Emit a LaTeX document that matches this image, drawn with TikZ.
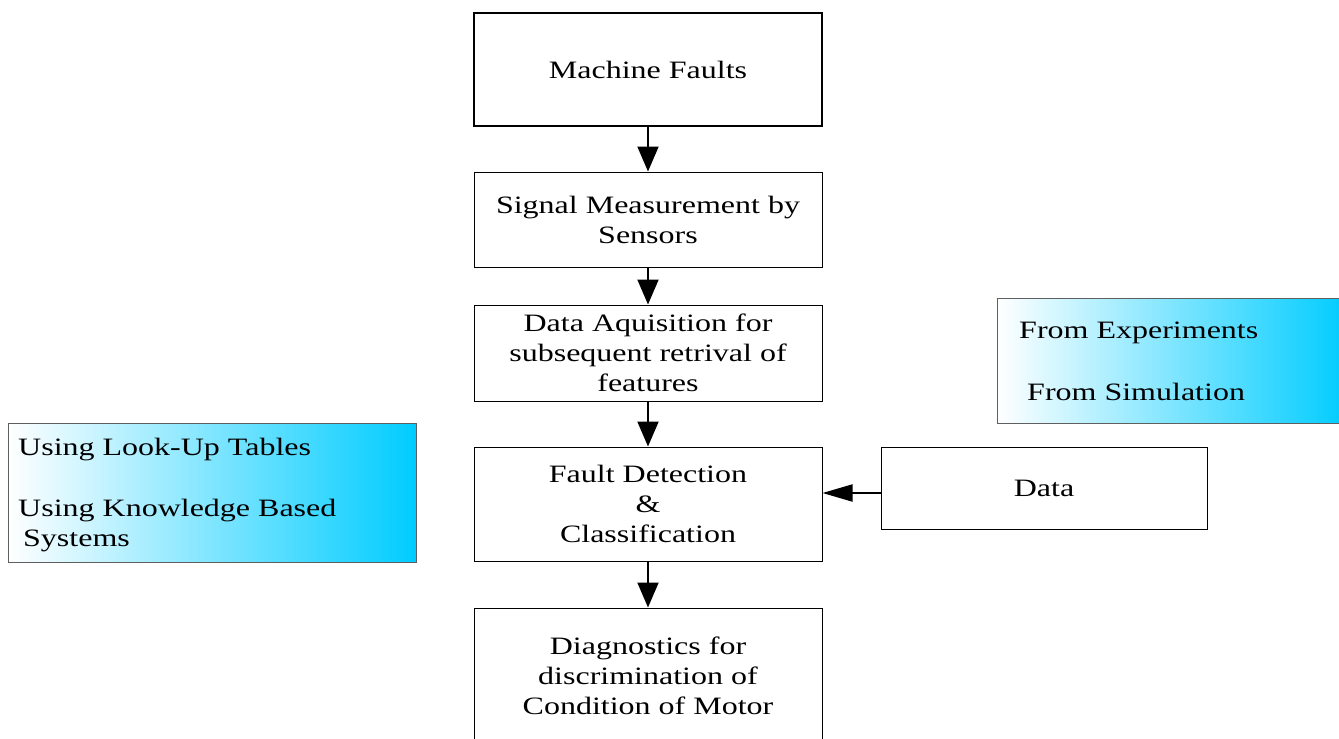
\documentclass[tikz,border=0pt]{standalone}
\usepackage{fontspec}
\setmainfont{Liberation Serif}[FakeStretch=1.28]
\usetikzlibrary{arrows.meta}
\definecolor{sky}{RGB}{0,204,255}
\definecolor{edgegray}{RGB}{95,95,95}
\begin{document}
\begin{tikzpicture}[x=1pt,y=-1pt,
  txt/.style={font=\fontsize{25}{30}\selectfont},
  box/.style={txt,draw=black,line width=1pt,minimum width=348pt,align=center,inner sep=0pt},
  gbox/.style={draw=edgegray,line width=1pt,left color=white,right color=sky,shading angle=90,inner sep=0pt},
  arr/.style={line width=2pt,-{Triangle[length=25pt,width=21pt]}},
  harr/.style={line width=2pt,-{Triangle[length=30pt,width=17pt]}}]
\useasboundingbox (0,0) rectangle (1339,739);
\clip (0,0) rectangle (1339,739);
% gradient boxes
\node[gbox,minimum width=350pt,minimum height=125pt] (gr) at (1172,360.5) {};
\node[gbox,minimum width=408pt,minimum height=139pt] (gl) at (212,492.5) {};
\node[txt,anchor=west,inner sep=0pt] (exp) at (1019,333) {From Experiments};
\node[txt,anchor=west,inner sep=0pt] (sim) at (1027,392) {From Simulation};
\node[txt,anchor=west,inner sep=0pt] (lut) at (18,450) {Using Look-Up Tables};
\node[txt,anchor=west,inner sep=0pt,align=left] (kbs) at (18,526) {Using Knowledge Based\\[0pt]\hspace*{5pt}Systems};
% main flow
\node[box,line width=2pt,minimum height=113pt] (mf) at (648,69.5) {Machine Faults};
\node[box,minimum height=95pt] (sig) at (648,219.5) {Signal Measurement by\\Sensors};
\node[box,minimum height=96pt] (daq) at (648,353) {Data Aquisition for\\subsequent retrival of\\features};
\node[box,minimum height=114pt] (fd) at (648,504) {Fault Detection\\\&\\Classification};
\node[box,minimum height=136pt] (diag) at (648,676) {Diagnostics for\\discrimination of\\Condition of Motor};
\node[box,minimum width=326pt,minimum height=82pt] (data) at (1044,488) {Data};
% connectors
\draw[arr] (mf.south) -- (sig.north);
\draw[arr] (sig.south) -- (daq.north);
\draw[arr] (daq.south) -- (fd.north);
\draw[arr] (fd.south) -- (diag.north);
\draw[harr] ([yshift=-5pt]data.west) -- ([yshift=-5pt]data.west -| fd.east);
\end{tikzpicture}
\end{document}
